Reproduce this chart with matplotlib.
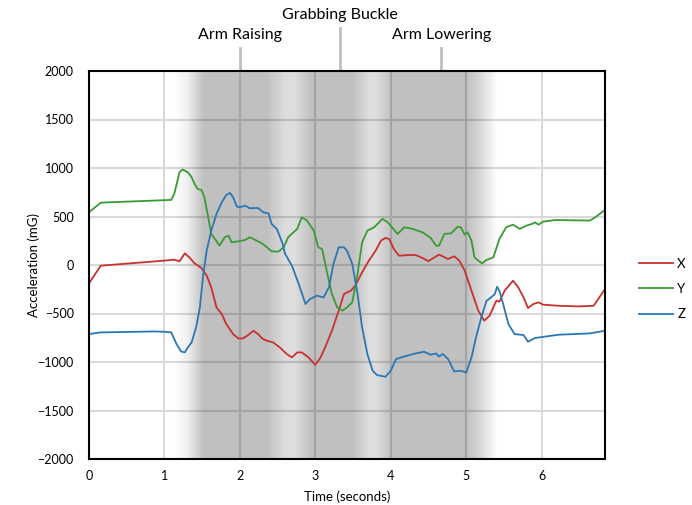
import numpy as np
import matplotlib
matplotlib.use("Agg")
import matplotlib.pyplot as plt

plt.rcParams['font.family'] = ['Lato', 'DejaVu Sans']

# ---- data ----
time_x = [0.0, 0.156, 1.0, 1.13, 1.2, 1.27, 1.33, 1.4, 1.49, 1.56, 1.62, 1.69, 1.76, 1.82, 1.91, 1.98,
          2.04, 2.11, 2.18, 2.24, 2.3, 2.36, 2.44, 2.53, 2.62, 2.69, 2.76, 2.82, 2.91, 3.0, 3.07, 3.13,
          3.22, 3.31, 3.38, 3.47, 3.53, 3.62, 3.71, 3.8, 3.87, 3.93, 3.98, 4.04, 4.11, 4.24, 4.33, 4.42,
          4.5, 4.56, 4.64, 4.76, 4.84, 4.91, 4.98, 5.07, 5.16, 5.24, 5.31, 5.4, 5.44, 5.51, 5.62, 5.69,
          5.76, 5.82, 5.89, 5.96, 6.02, 6.22, 6.49, 6.69, 6.84]
accel_x = [-189, -7, 45, 55, 38, 120, 79, 17, -31, -110, -230, -437, -506, -609, -712, -757,
           -757, -722, -678, -712, -760, -781, -798, -850, -918, -953, -901, -901, -953, -1029, -953, -850,
           -678, -471, -299, -265, -213, -76, 45, 148, 251, 279, 268, 165, 96, 103, 103, 72,
           40, 69, 107, 62, 89, 45, -58, -265, -471, -574, -523, -368, -378, -265, -162, -230,
           -334, -444, -402, -385, -409, -420, -427, -420, -248]

time_y = [0.0, 0.156, 1.09, 1.13, 1.2, 1.24, 1.31, 1.36, 1.4, 1.44, 1.49, 1.53, 1.58, 1.62, 1.67, 1.73,
          1.8, 1.85, 1.89, 1.98, 2.07, 2.13, 2.2, 2.29, 2.36, 2.42, 2.51, 2.58, 2.64, 2.76, 2.82, 2.89,
          2.98, 3.04, 3.09, 3.16, 3.22, 3.29, 3.36, 3.42, 3.49, 3.56, 3.62, 3.69, 3.78, 3.89, 3.96, 4.09,
          4.18, 4.29, 4.42, 4.53, 4.6, 4.64, 4.71, 4.8, 4.89, 4.93, 4.98, 5.02, 5.07, 5.11, 5.16, 5.21,
          5.27, 5.36, 5.44, 5.53, 5.62, 5.71, 5.8, 5.87, 5.91, 5.96, 6.02, 6.18, 6.64, 6.71, 6.84]
accel_y = [543, 643, 671, 733, 956, 984, 956, 905, 836, 784, 774, 698, 492, 320, 268, 200,
           286, 303, 234, 244, 258, 286, 260, 224, 182, 141, 138, 182, 286, 372, 492, 458,
           354, 182, 165, -93, -299, -437, -471, -437, -385, -93, 234, 354, 389, 475, 440, 320,
           389, 372, 337, 279, 200, 200, 320, 327, 396, 389, 313, 337, 251, 79, 45, 17,
           52, 79, 268, 389, 416, 372, 406, 423, 440, 416, 447, 464, 458, 492, 568]

time_z = [0.0, 0.156, 0.87, 1.0, 1.09, 1.16, 1.22, 1.27, 1.31, 1.36, 1.42, 1.47, 1.51, 1.56, 1.62, 1.69,
          1.76, 1.82, 1.87, 1.91, 1.96, 2.0, 2.07, 2.13, 2.24, 2.31, 2.38, 2.42, 2.49, 2.56, 2.6, 2.69,
          2.78, 2.87, 2.93, 3.02, 3.11, 3.18, 3.24, 3.31, 3.38, 3.42, 3.49, 3.56, 3.62, 3.69, 3.76, 3.82,
          3.93, 4.0, 4.07, 4.18, 4.33, 4.44, 4.53, 4.6, 4.64, 4.69, 4.76, 4.84, 4.93, 5.0, 5.07, 5.13,
          5.2, 5.27, 5.33, 5.38, 5.41, 5.44, 5.49, 5.56, 5.64, 5.76, 5.82, 5.91, 6.22, 6.64, 6.84]
accel_z = [-712, -695, -685, -688, -695, -815, -891, -901, -850, -798, -643, -437, -127, 148, 354, 526,
           647, 722, 743, 698, 602, 595, 612, 585, 588, 543, 533, 423, 371, 234, 114, -7,
           -196, -402, -351, -316, -334, -230, 10, 182, 182, 148, 10, -299, -643, -918, -1090, -1135,
           -1152, -1090, -970, -943, -912, -894, -925, -912, -943, -918, -970, -1097, -1090, -1111, -953, -746,
           -540, -368, -334, -299, -224, -265, -402, -609, -712, -722, -791, -753, -719, -705, -678]

series_labels = ['X', 'Y', 'Z']
series_colors = ['#c8312f', '#3a9a35', '#2b77b3']

x_ticks = [0, 1, 2, 3, 4, 5, 6]
y_ticks = [-2000, -1500, -1000, -500, 0, 500, 1000, 1500, 2000]

phase_labels = ['Arm Raising', 'Grabbing Buckle', 'Arm Lowering']
phase_times = [2.0, 3.33, 4.67]

# ---- figure ----
fig = plt.figure(figsize=(6.92, 5.05), dpi=100)
ax = fig.add_axes([89/692, 1 - 459/505, (605 - 89)/692, (459 - 71)/505])
ax.set_xlim(0, 6.84)
ax.set_ylim(-2000, 2000)

# shaded background (gradient)
tt = np.linspace(0, 6.84, 1200)
prof_t = [0, 1.12, 1.3, 1.52, 2.35, 2.6, 2.72, 2.95, 3.5, 3.72, 3.8, 4.02, 5.0, 5.15, 5.42, 6.84]
prof_a = [0, 0, 0.06, 0.25, 0.25, 0.14, 0.13, 0.25, 0.25, 0.13, 0.13, 0.25, 0.25, 0.18, 0.0, 0.0]
alpha = np.interp(tt, prof_t, prof_a)
img = np.zeros((1, len(tt), 4))
img[0, :, 3] = alpha
ax.imshow(img, extent=[0, 6.84, -2000, 2000], aspect='auto', zorder=2, interpolation='bilinear')

ax.set_xticks(x_ticks)
ax.set_yticks(y_ticks)
ax.grid(True, color='#d9d9d9', linewidth=1.5, zorder=1)
ax.set_axisbelow(True)
ax.tick_params(length=0, labelsize=9, colors='black')
ax.tick_params(axis='y', pad=11)
ax.tick_params(axis='x', pad=8)
for s in ax.spines.values():
    s.set_linewidth(1.5)
    s.set_color('black')
    s.set_zorder(5)

for t_arr, v_arr, lab, col in zip([time_x, time_y, time_z], [accel_x, accel_y, accel_z],
                                  series_labels, series_colors):
    ax.plot(t_arr, v_arr, color=col, linewidth=1.3, label=lab, zorder=4)

ax.set_xlabel('Time (seconds)', fontsize=9.5, labelpad=6)
ax.set_ylabel('Acceleration (mG)', fontsize=9.5, labelpad=-2)
ax.yaxis.set_label_coords(-80/516, 0.5) if False else None
ax.yaxis.label.set_position((0, 0.5))

# phase annotations
line_tops = [2237, 2443, 2237]
text_y = [2370, 2580, 2370]
for lab, tp, top, ty in zip(phase_labels, phase_times, line_tops, text_y):
    ax.plot([tp, tp], [2000, top], color='#bfbfbf', linewidth=2, clip_on=False, zorder=3)
    ax.text(tp, ty, lab, ha='center', va='center', fontsize=11.5, clip_on=False)

fig.legend(loc='center left', bbox_to_anchor=(627/692, 1 - 289/505), frameon=False,
           fontsize=9.5, handlelength=2.6, labelspacing=1.0, handletextpad=0.3)

fig.savefig('out.png', dpi=100)
